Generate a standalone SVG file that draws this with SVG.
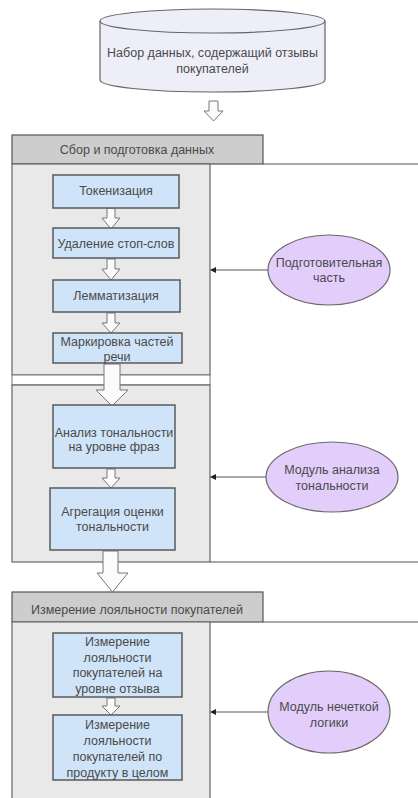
<svg xmlns="http://www.w3.org/2000/svg" width="418" height="798" viewBox="0 0 418 798">
<defs>
<style>
.t{font-family:"Liberation Sans",Arial,sans-serif;font-size:12.5px;fill:#4a4a4a;text-anchor:middle}
.box{fill:#cfe4f8;stroke:#5a5a5a;stroke-width:1.5}
.ell{fill:#e3cdfb;stroke:#6a6a6a;stroke-width:1.2}
.hdr{fill:#cdcdcd;stroke:#555;stroke-width:1.2}
.pan{fill:#e9e9e9;stroke:#666;stroke-width:1.2}
.ln{stroke:#555;stroke-width:1.2;fill:none}
.ar{fill:#fbfbfb;stroke:#777;stroke-width:1}
</style>
<marker id="ah" markerWidth="6" markerHeight="6" refX="5" refY="3" orient="auto" markerUnits="userSpaceOnUse">
<path d="M0,0 L6,3 L0,6 z" fill="#222"/>
</marker>
</defs>
<rect width="418" height="798" fill="#fff"/>

<g id="lanes">
<rect class="hdr" x="12" y="135" width="251" height="29"/>
<text class="t" x="137" y="154">Сбор и подготовка данных</text>
<line class="ln" x1="263" y1="164" x2="418" y2="164"/>
<rect class="pan" x="12" y="164" width="198" height="211"/>
<rect x="12" y="375" width="198" height="10" fill="#fff" stroke="#777" stroke-width="1"/>
<rect class="pan" x="12" y="385" width="198" height="177"/>
<line class="ln" x1="210" y1="562" x2="418" y2="562"/>
<rect class="hdr" x="12" y="592" width="251" height="30"/>
<text class="t" x="137" y="614">Измерение лояльности покупателей</text>
<line class="ln" x1="263" y1="622" x2="418" y2="622"/>
<path class="pan" d="M12,798 L12,622 L210,622 L210,798"/>
</g>

<g id="dataset">
<path d="M100,21 L100,80 A112.5,12 0 0 0 325,80 L325,21" fill="#eeeef8" stroke="#666" stroke-width="1.2"/>
<ellipse cx="212.5" cy="21" rx="112.5" ry="12" fill="#eeeef8" stroke="#666" stroke-width="1.2"/>
<text class="t" x="212.5" y="57">Набор данных, содержащий отзывы</text>
<text class="t" x="212.5" y="73">покупателей</text>
</g>

<g id="connectors">
<path class="ar" d="M209,101 L218,101 L218,111 L223,111 L213.5,121 L204,111 L209,111 z"/>
<path class="ar" d="M107,208 L115,208 L115,218 L120,218 L111,229 L102,218 L107,218 z"/>
<path class="ar" d="M107,259 L115,259 L115,269 L120,269 L111,280 L102,269 L107,269 z"/>
<path class="ar" d="M107,313 L115,313 L115,323 L120,323 L111,333 L102,323 L107,323 z"/>
<path class="ar" d="M104,364 L120,364 L120,390 L128,390 L112,406 L96,390 L104,390 z"/>
<path class="ar" d="M107,469 L115,469 L115,478 L120,478 L111,488 L102,478 L107,478 z"/>
<path class="ar" d="M103,551 L118,551 L118,573 L128,573 L112.5,592 L97,573 L103,573 z"/>
<path class="ar" d="M107,698 L115,698 L115,706 L120,706 L111,715 L102,706 L107,706 z"/>
<line class="ln" x1="268" y1="270" x2="211" y2="270" marker-end="url(#ah)"/>
<line class="ln" x1="266" y1="477" x2="211" y2="477" marker-end="url(#ah)"/>
<line class="ln" x1="268" y1="712" x2="211" y2="712" marker-end="url(#ah)"/>
</g>

<g id="tokenization">
<rect class="box" x="53" y="175" width="126" height="33"/>
<text class="t" x="116" y="195">Токенизация</text>
</g>
<g id="stopwords">
<rect class="box" x="53" y="228" width="126" height="30"/>
<text class="t" x="116" y="248">Удаление стоп-слов</text>
</g>
<g id="lemmatization">
<rect class="box" x="53" y="280" width="127" height="32"/>
<text class="t" x="116" y="300">Лемматизация</text>
</g>
<g id="postagging">
<rect class="box" x="53" y="333" width="129" height="30"/>
<text class="t" x="117" y="346">Маркировка частей</text>
<text class="t" x="117" y="361">речи</text>
</g>
<g id="phrase-sentiment">
<rect class="box" x="53" y="405" width="122" height="63"/>
<text class="t" x="114" y="437">Анализ тональности</text>
<text class="t" x="114" y="451">на уровне фраз</text>
</g>
<g id="aggregation">
<rect class="box" x="50" y="488" width="125" height="62"/>
<text class="t" x="112.5" y="516">Агрегация оценки</text>
<text class="t" x="112.5" y="531">тональности</text>
</g>
<g id="loyalty-review">
<rect class="box" x="53" y="633" width="129" height="64"/>
<text class="t" x="117.5" y="646">Измерение</text>
<text class="t" x="117.5" y="662">лояльности</text>
<text class="t" x="117.5" y="677">покупателей на</text>
<text class="t" x="117.5" y="693">уровне отзыва</text>
</g>
<g id="loyalty-product">
<rect class="box" x="53" y="715" width="129" height="65"/>
<text class="t" x="117.5" y="729">Измерение</text>
<text class="t" x="117.5" y="745">лояльности</text>
<text class="t" x="117.5" y="761">покупателей по</text>
<text class="t" x="117.5" y="777">продукту в целом</text>
</g>
<g id="prep-part">
<ellipse class="ell" cx="329" cy="270" rx="61" ry="35"/>
<text class="t" x="329" y="267">Подготовительная</text>
<text class="t" x="329" y="282">часть</text>
</g>
<g id="sentiment-module">
<ellipse class="ell" cx="332" cy="477" rx="66" ry="35"/>
<text class="t" x="332" y="474">Модуль анализа</text>
<text class="t" x="332" y="490">тональности</text>
</g>
<g id="fuzzy-module">
<ellipse class="ell" cx="329" cy="712" rx="61" ry="41"/>
<text class="t" x="329" y="711">Модуль нечеткой</text>
<text class="t" x="329" y="727">логики</text>
</g>
</svg>
